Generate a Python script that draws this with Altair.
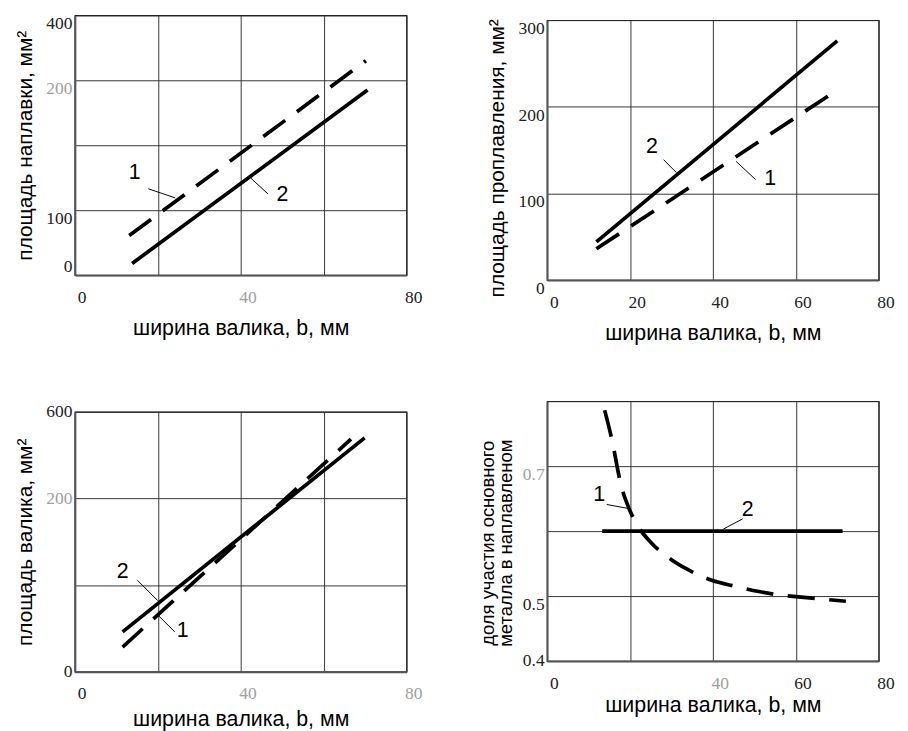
import altair as alt
import pandas as pd

# ---------------- data ----------------
# Panel 1: площадь наплавки
p1_solid_x = [13.8, 70.6]
p1_solid_y = [18, 285]
p1_dash_x = [13.1, 70.2]
p1_dash_y = [61, 330]
p1_lbl = ["1", "2"]
p1_lbl_x = [14.4, 50.1]
p1_lbl_y = [158, 124]
p1_lead_x = [17.7, 42.5]
p1_lead_y = [133, 149]
p1_lead_x2 = [24.2, 46.6]
p1_lead_y2 = [119, 125]
p1_yticks = [0, 100, 200, 300, 400]
p1_ylabels = ["0", "100", "", "200", "400"]
p1_yfaded = [300]
p1_xticks = [0, 20, 40, 60, 80]
p1_xlabels = ["0", "", "40", "", "80"]
p1_xfaded = [40]

# Panel 2: площадь проплавления
p2_solid_x = [11.9, 70.0]
p2_solid_y = [44, 276]
p2_dash_x = [11.9, 70.2]
p2_dash_y = [36, 220]
p2_lbl = ["2", "1"]
p2_lbl_x = [25.3, 53.8]
p2_lbl_y = [155, 117]
p2_lead_x = [28.1, 45.6]
p2_lead_y = [139, 137]
p2_lead_x2 = [31.2, 50.3]
p2_lead_y2 = [124, 116]
p2_yticks = [0, 100, 200, 300]
p2_ylabels = ["0", "100", "200", "300"]
p2_yfaded = []
p2_xticks = [0, 20, 40, 60, 80]
p2_xlabels = ["0", "20", "40", "60", "80"]
p2_xfaded = []

# Panel 3: площадь валика
p3_solid_x = [11.5, 69.9]
p3_solid_y = [92, 540]
p3_dash_x = [11.5, 66.6]
p3_dash_y = [57, 537]
p3_lbl = ["2", "1"]
p3_lbl_x = [11.5, 26.0]
p3_lbl_y = [232, 95]
p3_lead_x = [15.1, 20.0]
p3_lead_y = [211, 131]
p3_lead_x2 = [20.0, 24.1]
p3_lead_y2 = [164, 92]
p3_yticks = [0, 200, 400, 600]
p3_ylabels = ["0", "", "200", "600"]
p3_yfaded = [400]
p3_xticks = [0, 20, 40, 60, 80]
p3_xlabels = ["0", "", "40", "", "80"]
p3_xfaded = [40, 80]

# Panel 4: доля участия основного металла
p4_solid_x = [13.3, 71.3]
p4_solid_y = [0.6, 0.6]
p4_dash_x = [13.9, 15.6, 17.8, 19.9, 22.2, 25.0, 30.0, 33.9, 39.9, 44.8, 51.1, 55.7, 62.0, 72.1]
p4_dash_y = [0.786, 0.742, 0.672, 0.633, 0.605, 0.583, 0.556, 0.541, 0.524, 0.516, 0.507, 0.502, 0.498, 0.492]
p4_lbl = ["1", "2"]
p4_lbl_x = [12.6, 48.4]
p4_lbl_y = [0.657, 0.634]
p4_lead_x = [14.4, 42.5]
p4_lead_y = [0.641, 0.603]
p4_lead_x2 = [19.5, 47.2]
p4_lead_y2 = [0.635, 0.619]
p4_yticks = [0.4, 0.5, 0.6, 0.7, 0.8]
p4_ylabels = ["0.4", "0.5", "", "0.7", ""]
p4_yfaded = [0.7]
p4_xticks = [0, 20, 40, 60, 80]
p4_xlabels = ["0", "", "40", "60", "80"]
p4_xfaded = [40]

XTITLE = "ширина валика, b, мм"

W, H = 342, 268
DASH = [28, 15]
SERIF = "Liberation Serif, Times New Roman, serif"


def js_list(vals, quote=False):
    if quote:
        return "[" + ",".join("'" + v + "'" for v in vals) + "]"
    return "[" + ",".join(repr(v) for v in vals) + "]"


def make_axis(ticks, labels, faded, title, orient, **kw):
    expr = f"{js_list(labels, True)}[indexof({js_list(ticks)}, datum.value)]"
    if faded:
        color = {"condition": {"test": f"indexof({js_list(faded)}, datum.value) >= 0", "value": "#a0a0a0"},
                 "value": "#222222"}
    else:
        color = "#222222"
    return alt.Axis(values=ticks, labelExpr=expr, labelColor=color, title=title, orient=orient,
                    labelFont=SERIF, labelFontSize=18, **kw)


def panel(sx, sy, dx, dy, lbl, lx, ly, ldx, ldy, ldx2, ldy2,
          xticks, xlabels, xfaded, yticks, ylabels, yfaded, ytitle, ydom, ykw, xtp):
    xaxis = make_axis(xticks, xlabels, xfaded, XTITLE, "bottom", labelOffset=7, labelPadding=14,
                      labelFlush=False, titleFontSize=22, titlePadding=xtp)
    yaxis = make_axis(yticks, ylabels, yfaded, ytitle, "left", labelFlush=False, **ykw)
    X = alt.X("x:Q", scale=alt.Scale(domain=[0, 80], nice=False, zero=False), axis=xaxis)
    Y = alt.Y("y:Q", scale=alt.Scale(domain=ydom, nice=False, zero=False), axis=yaxis)
    solid = pd.DataFrame({"x": sx, "y": sy})
    dash = pd.DataFrame({"x": dx, "y": dy})
    txt = pd.DataFrame({"x": lx, "y": ly, "t": lbl})
    lead = pd.DataFrame({"x": ldx, "y": ldy, "x2": ldx2, "y2": ldy2})
    l1 = alt.Chart(solid).mark_line(color="black", strokeWidth=3.8, interpolate="monotone").encode(x=X, y=Y)
    l2 = alt.Chart(dash).mark_line(color="black", strokeWidth=3.8, strokeDash=DASH,
                                   interpolate="monotone").encode(x=X, y=Y)
    l3 = alt.Chart(lead).mark_rule(color="black", strokeWidth=1).encode(x=X, y=Y, x2="x2:Q", y2="y2:Q")
    l4 = alt.Chart(txt).mark_text(font="Liberation Sans", fontSize=22, color="black").encode(x=X, y=Y, text="t:N")
    return alt.layer(l1, l2, l3, l4).properties(width=W, height=H)


p1 = panel(p1_solid_x, p1_solid_y, p1_dash_x, p1_dash_y, p1_lbl, p1_lbl_x, p1_lbl_y,
           p1_lead_x, p1_lead_y, p1_lead_x2, p1_lead_y2,
           p1_xticks, p1_xlabels, p1_xfaded, p1_yticks, p1_ylabels, p1_yfaded,
           "площадь наплавки, мм²", [0, 400],
           {"labelBaseline": {"condition": {"test": "datum.value == 0", "value": "bottom"}, "value": "top"}}, 12)
p2 = panel(p2_solid_x, p2_solid_y, p2_dash_x, p2_dash_y, p2_lbl, p2_lbl_x, p2_lbl_y,
           p2_lead_x, p2_lead_y, p2_lead_x2, p2_lead_y2,
           p2_xticks, p2_xlabels, p2_xfaded, p2_yticks, p2_ylabels, p2_yfaded,
           "площадь проплавления, мм²", [0, 300], {"labelBaseline": "top", "titleY": 142}, 12)
p3 = panel(p3_solid_x, p3_solid_y, p3_dash_x, p3_dash_y, p3_lbl, p3_lbl_x, p3_lbl_y,
           p3_lead_x, p3_lead_y, p3_lead_x2, p3_lead_y2,
           p3_xticks, p3_xlabels, p3_xfaded, p3_yticks, p3_ylabels, p3_yfaded,
           "площадь валика, мм²", [0, 600], {"labelBaseline": "middle"}, 7)
p4 = panel(p4_solid_x, p4_solid_y, p4_dash_x, p4_dash_y, p4_lbl, p4_lbl_x, p4_lbl_y,
           p4_lead_x, p4_lead_y, p4_lead_x2, p4_lead_y2,
           p4_xticks, p4_xlabels, p4_xfaded, p4_yticks, p4_ylabels, p4_yfaded,
           ["доля участия основного", "металла в наплавленом"], [0.4, 0.8],
           {"labelBaseline": {"condition": {"test": "datum.value == 0.4", "value": "middle"}, "value": "top"},
            "titleFontSize": 19, "titleLineHeight": 19, "titleY": 146, "titlePadding": 7}, 3)

spacer = alt.Chart(pd.DataFrame({"s": [0]})).mark_rule(opacity=0, strokeWidth=0.5).encode(
    x=alt.value(0), x2=alt.value(1), y=alt.value(0)
).properties(width=300, height=1, view=alt.ViewBackground(stroke="transparent"))

left = alt.vconcat(p1, p3, spacing=65)
right = alt.vconcat(spacer, alt.vconcat(p2, p4, spacing=58), spacing=0)

chart = alt.hconcat(left, right, spacing=56).properties(
    padding={"left": 6, "top": -5, "right": 5, "bottom": 2}
).configure_view(
    stroke="black", strokeWidth=1.2
).configure_axis(
    grid=True, gridColor="#333333", gridWidth=1,
    domainColor="#555555", domainWidth=2, ticks=False,
    labelPadding=3,
    titleFont="Liberation Sans", titleFontSize=21.5, titleFontWeight="normal",
    titleColor="black", titlePadding=10
)

chart.save("out.html", embed_options={"renderer": "svg", "actions": False})
